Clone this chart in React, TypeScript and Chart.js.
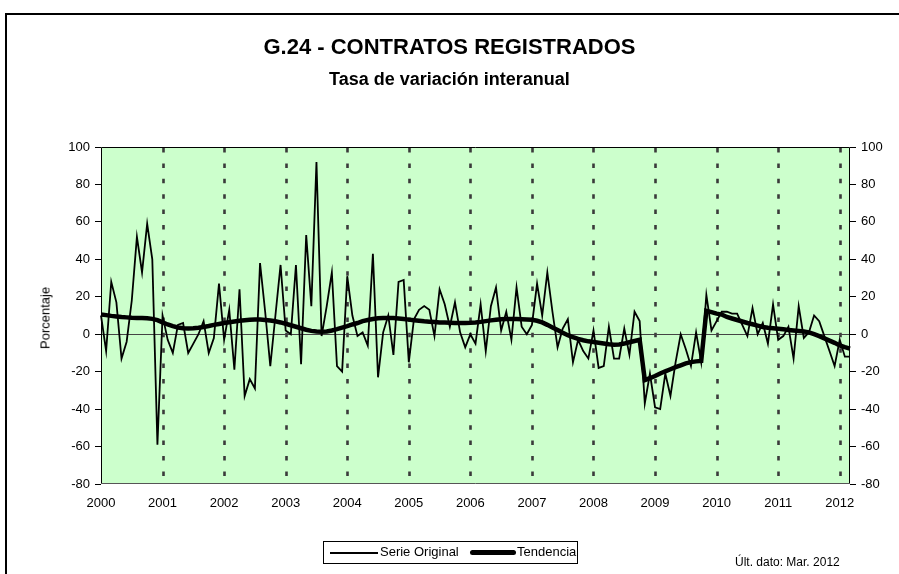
import React, { useEffect, useRef } from "react";
import { Chart, registerables } from "chart.js";

Chart.register(...registerables);

// ---- Data ----
const YEAR_LABELS = ["2000", "2001", "2002", "2003", "2004", "2005", "2006", "2007", "2008", "2009", "2010", "2011", "2012"];
const MONTH_NAMES = ["Ene", "Feb", "Mar", "Abr", "May", "Jun", "Jul", "Ago", "Sep", "Oct", "Nov", "Dic"];
const LAST_MONTH_COUNT = 147; // Jan 2000 .. Mar 2012

const MONTHS: string[] = [];
for (let y = 0; y < YEAR_LABELS.length; y++) {
  for (let m = 0; m < 12; m++) {
    if (MONTHS.length < LAST_MONTH_COUNT) MONTHS.push(MONTH_NAMES[m] + " " + YEAR_LABELS[y]);
  }
}

const SERIE_ORIGINAL = [
  // 2000
  10, -9, 28, 17, -13, -4, 18, 52, 33, 59, 40, -59,
  // 2001
  10, -3, -10, 5, 6, -10, -5, 0, 7, -10, -2, 27,
  // 2002
  -3, 13, -19, 24, -33, -24, -29, 38, 12, -17, 10, 37,
  // 2003
  2, 0, 37, -16, 53, 15, 92, -1, 15, 33, -17, -20,
  // 2004
  31, 10, -1, 1, -6, 43, -23, 1, 10, -11, 28, 29,
  // 2005
  -15, 8, 13, 15, 13, -1, 24, 16, 4, 17, 1, -7,
  // 2006
  0, -5, 16, -9, 15, 25, 2, 12, -3, 25, 4, 0,
  // 2007
  5, 27, 10, 33, 12, -7, 3, 8, -15, -3, -9, -13,
  // 2008
  2, -18, -17, 4, -13, -13, 3, -11, 12, 7, -37, -21,
  // 2009
  -39, -40, -21, -33, -15, 0, -8, -17, 1, -15, 21, 2,
  // 2010
  7, 12, 12, 11, 11, 5, -1, 14, 0, 6, -5, 16,
  // 2011
  -3, -1, 4, -13, 15, -2, 1, 10, 7, -1, -9, -17,
  // 2012
  -3, -12, -12,
];

const TENDENCIA = [
  // 2000
  10.5, 10.2, 9.8, 9.5, 9.2, 9.0, 8.8, 8.7, 8.6, 8.5, 8.2, 7.5,
  // 2001
  6.3, 5.2, 4.3, 3.6, 3.2, 3.1, 3.2, 3.5, 3.9, 4.4, 5.0, 5.5,
  // 2002
  6.0, 6.4, 6.8, 7.2, 7.5, 7.7, 7.8, 7.8, 7.6, 7.3, 6.9, 6.3,
  // 2003
  5.6, 4.8, 4.0, 3.2, 2.4, 1.8, 1.4, 1.3, 1.5, 2.0, 2.7, 3.5,
  // 2004
  4.3, 5.2, 6.0, 7.0, 7.6, 8.1, 8.5, 8.7, 8.7, 8.6, 8.4, 8.1,
  // 2005
  7.8, 7.5, 7.2, 6.9, 6.7, 6.5, 6.3, 6.2, 6.1, 6.0, 6.0, 6.0,
  // 2006
  6.1, 6.3, 6.6, 7.0, 7.4, 7.7, 8.0, 8.1, 8.1, 8.1, 8.0, 7.9,
  // 2007
  7.7, 7.2, 6.3, 5.0, 3.6, 2.2, 0.8, -0.5, -1.6, -2.5, -3.2, -3.8,
  // 2008
  -4.2, -4.6, -5.0, -5.4, -5.6, -5.5, -5.0, -4.3, -3.6, -3.0, -24.5, -23.5,
  // 2009
  -22.3, -21.0, -19.8, -18.7, -17.6, -16.6, -15.6, -14.9, -14.5, -14.3, 12.5, 11.8,
  // 2010
  11.0, 10.5, 9.2, 8.4, 7.6, 6.8, 6.0, 5.3, 4.6, 3.9, 3.5, 3.2,
  // 2011
  2.9, 2.6, 2.3, 2.0, 1.7, 1.4, 1.0, 0.0, -1.0, -2.2, -3.4, -4.6,
  // 2012
  -6.0, -6.9, -7.7,
];

const Y_MIN = -80;
const Y_MAX = 100;
const Y_STEP = 20;

const FONT = "'Liberation Sans', Arial, Helvetica, sans-serif";

const plotDecor = {
  id: "plotDecor",
  beforeDatasetsDraw(chart: any) {
    const { ctx, chartArea, scales } = chart;
    const { left, right, top, bottom } = chartArea;
    ctx.save();
    // background
    ctx.fillStyle = "#CCFFCC";
    ctx.fillRect(left, top, right - left, bottom - top);
    // dashed year separators
    ctx.strokeStyle = "#3a3a3a";
    ctx.lineWidth = 2.6;
    ctx.setLineDash([4.5, 10.9]);
    for (let i = 12; i < MONTHS.length; i += 12) {
      const x = Math.round(scales.x.getPixelForValue(i)) + 0.5;
      ctx.beginPath();
      ctx.moveTo(x, top + 1);
      ctx.lineTo(x, bottom);
      ctx.stroke();
    }
    ctx.setLineDash([]);
    // zero line
    const y0 = Math.round(scales.y.getPixelForValue(0)) + 0.5;
    ctx.strokeStyle = "#444";
    ctx.lineWidth = 1;
    ctx.beginPath();
    ctx.moveTo(left, y0);
    ctx.lineTo(right, y0);
    ctx.stroke();
    ctx.restore();
  },
  afterDatasetsDraw(chart: any) {
    const { ctx, chartArea } = chart;
    const { left, right, top, bottom } = chartArea;
    ctx.save();
    ctx.lineWidth = 1;
    ctx.strokeStyle = "#000";
    ctx.beginPath();
    ctx.moveTo(left + 0.5, bottom);
    ctx.lineTo(left + 0.5, top + 0.5);
    ctx.lineTo(right - 0.5, top + 0.5);
    ctx.lineTo(right - 0.5, bottom);
    ctx.stroke();
    ctx.strokeStyle = "#555";
    ctx.beginPath();
    ctx.moveTo(left, bottom - 0.5);
    ctx.lineTo(right, bottom - 0.5);
    ctx.stroke();
    ctx.restore();
  },
};

function ChartCanvas() {
  const ref = useRef<HTMLCanvasElement | null>(null);
  useEffect(() => {
    if (!ref.current) return;
    const yAxisCommon = {
      min: Y_MIN,
      max: Y_MAX,
      grid: { drawOnChartArea: false, drawTicks: true, tickLength: 6, color: "#000", tickColor: "#000" },
      border: { display: false },
      ticks: {
        stepSize: Y_STEP,
        color: "#000",
        padding: 5,
        font: { family: FONT, size: 13 },
      },
    };
    const chart = new Chart(ref.current, {
      type: "line",
      data: {
        labels: MONTHS,
        datasets: [
          {
            label: "Serie Original",
            data: SERIE_ORIGINAL,
            borderColor: "#000",
            borderWidth: 1.8,
            pointRadius: 0,
            tension: 0,
            fill: false,
            order: 2,
          },
          {
            label: "Tendencia",
            data: TENDENCIA,
            borderColor: "#000",
            borderWidth: 4.5,
            pointRadius: 0,
            tension: 0,
            fill: false,
            order: 1,
          },
        ],
      },
      options: {
        responsive: false,
        animation: false,
        devicePixelRatio: 1,
        layout: { padding: { top: 147, left: 0, right: 0, bottom: 0 } },
        plugins: {
          legend: { display: false },
          title: { display: false },
          tooltip: { enabled: false },
        },
        scales: {
          x: {
            type: "category",
            offset: false,
            grid: { display: false, drawTicks: false },
            border: { display: false },
            ticks: {
              autoSkip: false,
              maxRotation: 0,
              minRotation: 0,
              padding: 12,
              color: "#000",
              font: { family: FONT, size: 13 },
              callback: (_v: any, idx: number) => (idx % 12 === 0 ? YEAR_LABELS[idx / 12] : null),
            },
            afterFit: (s: any) => {
              s.height = 90;
            },
          },
          y: {
            ...yAxisCommon,
            position: "left",
            afterFit: (s: any) => {
              s.width = 101;
            },
          },
          y1: {
            ...yAxisCommon,
            position: "right",
            afterFit: (s: any) => {
              s.width = 49;
            },
          },
        },
      },
      plugins: [plotDecor],
    } as any);
    return () => chart.destroy();
  }, []);
  return <canvas ref={ref} width={899} height={574} style={{ position: "absolute", left: 0, top: 0 }} />;
}

export default function App() {
  useEffect(() => {
    document.body.style.margin = "0";
    document.body.style.overflow = "hidden";
  }, []);
  const text: React.CSSProperties = { position: "absolute", fontFamily: FONT, color: "#000", whiteSpace: "nowrap" };
  return (
    <div style={{ position: "relative", width: 899, height: 574, overflow: "hidden", background: "#fff" }}>
      <div
        style={{
          position: "absolute",
          left: 5,
          top: 13,
          width: 1200,
          height: 1200,
          borderLeft: "2px solid #000",
          borderTop: "2px solid #000",
        }}
      />
      <ChartCanvas />
      <div style={{ ...text, left: 0, width: 899, top: 34, textAlign: "center", fontWeight: "bold", fontSize: 22, lineHeight: "26px" }}>
        G.24 - CONTRATOS REGISTRADOS
      </div>
      <div style={{ ...text, left: 0, width: 899, top: 68, textAlign: "center", fontWeight: "bold", fontSize: 18, lineHeight: "22px" }}>
        Tasa de variación interanual
      </div>
      <div
        style={{
          ...text,
          left: 45,
          top: 318,
          fontSize: 13,
          transform: "translate(-50%, -50%) rotate(-90deg)",
        }}
      >
        Porcentaje
      </div>
      <div
        style={{
          position: "absolute",
          left: 323,
          top: 541,
          width: 253,
          height: 21,
          border: "1px solid #000",
          background: "#fff",
        }}
      >
        <div style={{ position: "absolute", left: 6, top: 10, width: 48, height: 2, background: "#000" }} />
        <div style={{ ...text, left: 56, top: 2, fontSize: 13 }}>Serie Original</div>
        <div style={{ position: "absolute", left: 146, top: 8, width: 46, height: 5, background: "#000", borderRadius: 3 }} />
        <div style={{ ...text, left: 193, top: 2, fontSize: 13 }}>Tendencia</div>
      </div>
      <div style={{ ...text, left: 735, top: 555, fontSize: 12 }}>Últ. dato: Mar. 2012</div>
    </div>
  );
}
